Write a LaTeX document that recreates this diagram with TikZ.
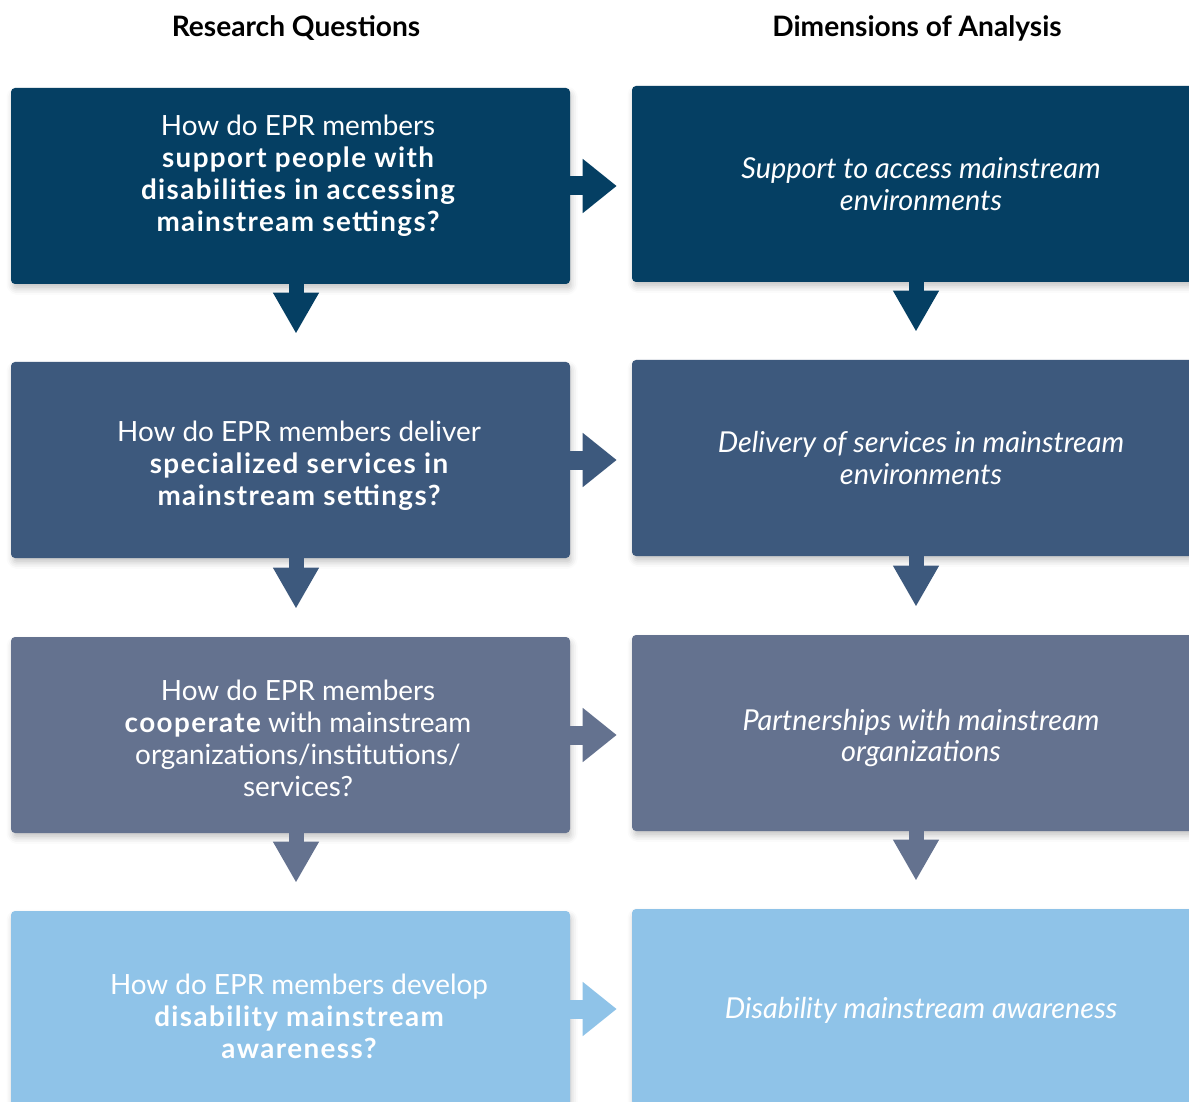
\documentclass[tikz,border=0pt]{standalone}
\usepackage{fontspec}
\setmainfont{Lato}
\usetikzlibrary{arrows.meta,shadows.blur}

\definecolor{rowone}{RGB}{5,63,99}
\definecolor{rowtwo}{RGB}{61,89,125}
\definecolor{rowthree}{RGB}{100,114,143}
\definecolor{rowfour}{RGB}{143,195,232}
\newcommand{\pxl}{0.025cm}
\newcommand{\hv}[1]{{\bfseries\addfontfeatures{LetterSpace=5}#1}}

\begin{document}
\begin{tikzpicture}[
            x=0.025cm, y=-0.025cm,
            box/.style={
                rectangle,
                rounded corners=4*\pxl,
                inner sep=0pt,
                minimum height=196*\pxl,
                blur shadow={shadow xshift=0.4mm, shadow yshift=-1.2mm,
                    shadow blur radius=1.5mm, shadow opacity=22}
            },
            qbox/.style={box, minimum width=559*\pxl},
            dbox/.style={box, minimum width=568*\pxl},
            qtext/.style={text=white, align=center, inner sep=0pt,
                font=\fontsize{19.8}{22.7}\selectfont},
            dtext/.style={qtext, font=\fontsize{20.5}{22.7}\selectfont\itshape},
            head/.style={font=\fontsize{20}{24}\selectfont\bfseries, text=black},
            across/.style={line width=19*\pxl, shorten >=15*\pxl,
                -{Triangle[width=52*\pxl, length=34*\pxl]}},
            downward/.style={line width=15*\pxl, shorten >=28*\pxl,
                -{Triangle[width=43*\pxl, length=41*\pxl]}}
        ]
        \useasboundingbox (0,0) rectangle (1189,1102);
        \clip (0,0) rectangle (1189,1102);

        % Headings
        \node[head] (hq) at (296,28) {Research Questions};
        \node[head] (hd) at (917,28) {Dimensions of Analysis};

        % Questions
        \node[qbox, fill=rowone]   (q1) at (290.5,186)  {};
        \node[qbox, fill=rowtwo]   (q2) at (290.5,460)  {};
        \node[qbox, fill=rowthree] (q3) at (290.5,735)  {};
        \node[qbox, fill=rowfour]  (q4) at (290.5,1009) {};
        \node[qtext] (q1t) at (298,176)  {How do EPR members\\ \hv{support people with}\\ \hv{disabilities in accessing}\\ \hv{mainstream settings?}};
        \node[qtext] (q2t) at (299,466)  {How do EPR members deliver\\ \hv{specialized services in}\\ \hv{mainstream settings?}};
        \node[qtext] (q3t) at (298,738)  {How do EPR members\\ \hv{cooperate} with mainstream\\ organizations/institutions/\\ services?};
        \node[qtext] (q4t) at (299,1016) {How do EPR members develop\\ \hv{disability mainstream}\\ \hv{awareness?}};

        % Dimensions
        \node[dbox, fill=rowone]   (d1) at (916,184)  {};
        \node[dbox, fill=rowtwo]   (d2) at (916,458)  {};
        \node[dbox, fill=rowthree] (d3) at (916,733)  {};
        \node[dbox, fill=rowfour]  (d4) at (916,1007) {};
        \node[dtext] (d1t) at (921,184)  {Support to access mainstream\\ environments};
        \node[dtext] (d2t) at (921,458)  {Delivery of services in mainstream\\ environments};
        \node[dtext] (d3t) at (921,738)  {Partnerships with mainstream\\ organizations};
        \node[dtext] (d4t) at (921,1010) {Disability mainstream awareness};

        % Arrows across
        \draw[across, rowone]   (q1.east) -- (q1.east -| d1.west);
        \draw[across, rowtwo]   (q2.east) -- (q2.east -| d2.west);
        \draw[across, rowthree] (q3.east) -- (q3.east -| d3.west);
        \draw[across, rowfour]  (q4.east) -- (q4.east -| d4.west);

        % Arrows down
        \draw[downward, rowone]   ([xshift=5.5*\pxl]q1.south) -- ([xshift=5.5*\pxl]q2.north);
        \draw[downward, rowtwo]   ([xshift=5.5*\pxl]q2.south) -- ([xshift=5.5*\pxl]q3.north);
        \draw[downward, rowthree] ([xshift=5.5*\pxl]q3.south) -- ([xshift=5.5*\pxl]q4.north);
        \draw[downward, rowone]   (d1.south) -- (d2.north);
        \draw[downward, rowtwo]   (d2.south) -- (d3.north);
        \draw[downward, rowthree] (d3.south) -- (d4.north);

        \end{tikzpicture}
\end{document}
